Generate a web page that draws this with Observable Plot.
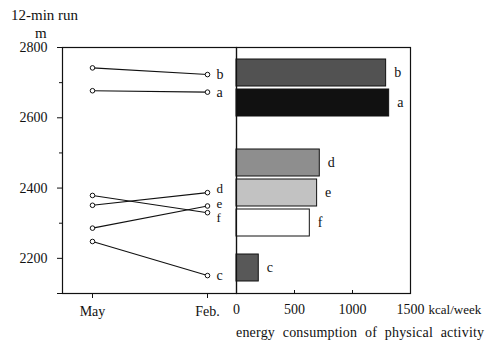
<!DOCTYPE html>
<html>
<head>
<meta charset="utf-8">
<script src="https://cdn.jsdelivr.net/npm/d3@7"></script>
<script src="https://cdn.jsdelivr.net/npm/@observablehq/plot@0.6"></script>
<style>
  html, body { margin: 0; padding: 0; background: #fff; }
  #chart { position: relative; width: 496px; height: 343px; font-family: "Liberation Serif", "Times New Roman", serif; font-size: 14px; color: #111; }
  #chart > svg, #chart > .txt { position: absolute; }
  .txt { white-space: nowrap; line-height: 1; }
</style>
</head>
<body>
<div id="chart">
  <div class="txt" id="ytitle" style="left:11px; top:8px; font-size:15px;">12-min run</div>
  <div class="txt" id="yunit" style="left:35px; top:26px; font-size:15px;">m</div>
  <div class="txt" id="xcaption" style="left:236px; top:326px; word-spacing:4px; letter-spacing:0.2px;">energy consumption of physical activity</div>
</div>
<script>
// 12-minute run distance (m) per group, measured in May and again in February
const groups = ["a", "b", "c", "d", "e", "f"];
const months = ["May", "Feb."];
const runMay = [2677, 2742, 2248, 2351, 2286, 2379];
const runFeb = [2673, 2723, 2151, 2387, 2349, 2330];
// weekly energy consumption of physical activity (kcal/week) per group
const energy = [1316, 1290, 192, 718, 695, 632];
const barFills = {a: "#111", b: "#525252", c: "#585858", d: "#8e8e8e", e: "#c2c2c2", f: "#fff"};
// bar rows from top to bottom; empty entries leave a gap between groups
const barRows = ["b", "", "a", "", "", "", "d", "", "e", "", "f", "", "", "c"];
const runTicks = [2200, 2400, 2600, 2800];
const runMinorTicks = [2300, 2500, 2700];
const energyTicks = [0, 500, 1000, 1500];
const energyUnit = "kcal/week";

const runData = groups.flatMap((g, i) => [
  {group: g, month: months[0], dist: runMay[i]},
  {group: g, month: months[1], dist: runFeb[i]}
]);
const febData = runData.filter(d => d.month === months[1]);
const barData = groups.map((g, i) => ({group: g, kcal: energy[i]}));
const rowDomain = barRows.map((r, i) => r === "" ? `gap${i}` : r);

// end labels of the run lines; the crowded d / e / f labels are pushed apart
const labelNudge = {d: -4, e: -2, f: 5};
const nudges = [...new Set(febData.map(d => labelNudge[d.group] ?? 0))];
const endLabels = nudges.map(n => Plot.text(
  febData.filter(d => (labelNudge[d.group] ?? 0) === n),
  {x: "month", y: "dist", text: "group", dx: 9, dy: n, textAnchor: "start", fontSize: n ? 13 : 14}
));

const font = {fontFamily: "'Liberation Serif', 'Times New Roman', serif", fontSize: "14px", background: "transparent", color: "#111", overflow: "visible"};

const left = Plot.plot({
  width: 240, height: 343,
  marginTop: 47, marginBottom: 50, marginLeft: 62, marginRight: 4,
  style: font,
  x: {type: "point", domain: months, padding: 0.2565},
  y: {domain: [2100, 2800]},
  marks: [
    Plot.frame({stroke: "#111", strokeWidth: 1.2}),
    Plot.ruleY([2100, 2800], {stroke: "#111", strokeWidth: 1.2, insetLeft: -5}),
    Plot.axisY({ticks: runTicks, tickFormat: "d", tickSize: 5, tickPadding: 10, label: null, fontSize: 14}),
    Plot.axisY({ticks: runMinorTicks, tickSize: 3, text: null, label: null}),
    Plot.axisX({tickSize: 5, tickPadding: 8, label: null, fontSize: 14}),
    Plot.line(runData, {x: "month", y: "dist", z: "group", stroke: "#111", strokeWidth: 1.1}),
    Plot.dot(runData, {x: "month", y: "dist", r: 2.3, fill: "white", stroke: "#111", strokeWidth: 1}),
    ...endLabels
  ]
});

const right = Plot.plot({
  width: 270, height: 343,
  marginTop: 47, marginBottom: 50, marginLeft: 10, marginRight: 86,
  style: font,
  x: {domain: [0, 1500]},
  y: {type: "band", domain: rowDomain, paddingInner: 0, paddingOuter: 0.756, axis: null},
  marks: [
    Plot.barX(barData, {x: "kcal", y: "group", fill: d => barFills[d.group], stroke: "#111", strokeWidth: 1, insetTop: -6, insetBottom: -6}),
    Plot.text(barData, {x: "kcal", y: "group", text: "group", dx: 8, textAnchor: "start", fontSize: 14}),
    Plot.frame({stroke: "#111", strokeWidth: 1.2}),
    Plot.axisX({ticks: energyTicks, tickSize: -3, text: null, label: null}),
    Plot.axisX({ticks: energyTicks, tickFormat: "d", tickSize: 0, tickPadding: 11, label: null, fontSize: 14}),
    Plot.text([energyUnit], {x: () => energyTicks[energyTicks.length - 1], frameAnchor: "bottom", lineAnchor: "top", dy: 11, dx: 18, textAnchor: "start", fontSize: 13})
  ]
});

left.style.left = "0px"; left.style.top = "0px";
right.style.left = "226px"; right.style.top = "0px";
const chart = document.getElementById("chart");
chart.appendChild(left);
chart.appendChild(right);
</script>
</body>
</html>
